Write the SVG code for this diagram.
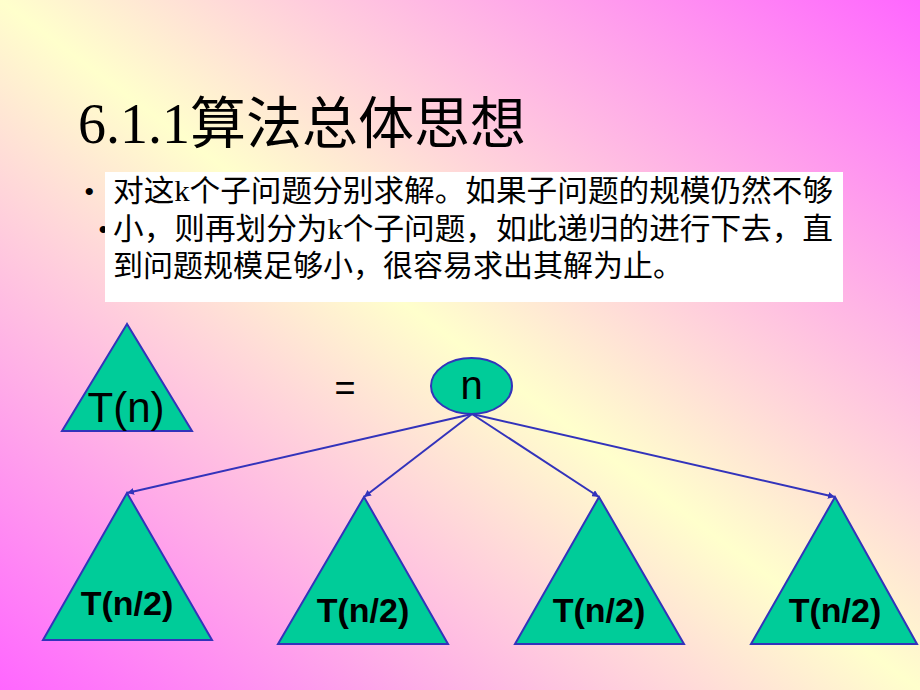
<svg xmlns="http://www.w3.org/2000/svg" width="920" height="690" viewBox="0 0 920 690">
  <defs>
    <linearGradient id="bg" x1="0" y1="1" x2="1" y2="0">
      <stop offset="0" stop-color="#ff66ff"/>
      <stop offset="0.5" stop-color="#ffffcc"/>
      <stop offset="1" stop-color="#ff66ff"/>
    </linearGradient>
    <marker id="arr" viewBox="0 0 10 10" refX="10" refY="5" markerWidth="7" markerHeight="7" orient="auto" markerUnits="userSpaceOnUse">
      <path d="M0,0 L10,5 L0,10 z" fill="#3333bb"/>
    </marker>
    <style>
      .tri { fill: #00cc99; stroke: #3333bb; stroke-width: 2; }
      .lbl { font-family: "Liberation Sans", Arial, sans-serif; fill: #000; text-anchor: middle; }
      .sub { font-size: 34px; font-weight: bold; }
      .edge { stroke: #3333bb; stroke-width: 2; fill: none; marker-end: url(#arr); }
      .body { font-family: "Liberation Serif", "Noto Sans CJK SC", serif; font-size: 30px; fill: #000; }
    </style>
  </defs>
  <rect x="0" y="0" width="920" height="690" fill="url(#bg)"/>

  <g id="title">
    <text x="78" y="143" font-family="'Liberation Serif', 'Noto Sans CJK SC', serif" font-size="56" fill="#000">6.1.1算法总体思想</text>
  </g>

  <g id="textbox">
    <text x="84" y="202" class="body">•</text>
    <text x="98" y="240" class="body">•</text>
    <rect x="105" y="172" width="738" height="130" fill="#ffffff"/>
    <text x="113" y="201" class="body" textLength="720" lengthAdjust="spacingAndGlyphs">对这k个子问题分别求解。如果子问题的规模仍然不够</text>
    <text x="113" y="239" class="body" textLength="720" lengthAdjust="spacingAndGlyphs">小，则再划分为k个子问题，如此递归的进行下去，直</text>
    <text x="113" y="276" class="body">到问题规模足够小，很容易求出其解为止。</text>
  </g>

  <g id="Tn">
    <polygon class="tri" points="127,324 62,431 192,431"/>
    <text x="126" y="422" class="lbl" font-size="42">T(n)</text>
  </g>

  <g id="equals">
    <text x="345" y="400" class="lbl" font-size="36">=</text>
  </g>

  <g id="connectors">
    <line class="edge" x1="472" y1="414" x2="127" y2="493"/>
    <line class="edge" x1="472" y1="414" x2="364" y2="497"/>
    <line class="edge" x1="472" y1="414" x2="599" y2="497"/>
    <line class="edge" x1="472" y1="414" x2="835" y2="497"/>
  </g>

  <g id="root">
    <ellipse cx="471.5" cy="386" rx="40.5" ry="28" fill="#00cc99" stroke="#3333bb" stroke-width="2"/>
    <text x="471.5" y="399" class="lbl" font-size="40">n</text>
  </g>

  <g id="T1">
    <polygon class="tri" points="127,493 43,640 212,640"/>
    <text x="127" y="615" class="lbl sub">T(n/2)</text>
  </g>
  <g id="T2">
    <polygon class="tri" points="364,497 278,644 448,644"/>
    <text x="363" y="622" class="lbl sub">T(n/2)</text>
  </g>
  <g id="T3">
    <polygon class="tri" points="599,497 515,644 684,644"/>
    <text x="599" y="622" class="lbl sub">T(n/2)</text>
  </g>
  <g id="T4">
    <polygon class="tri" points="835,497 751,644 917,644"/>
    <text x="835" y="622" class="lbl sub">T(n/2)</text>
  </g>
</svg>
